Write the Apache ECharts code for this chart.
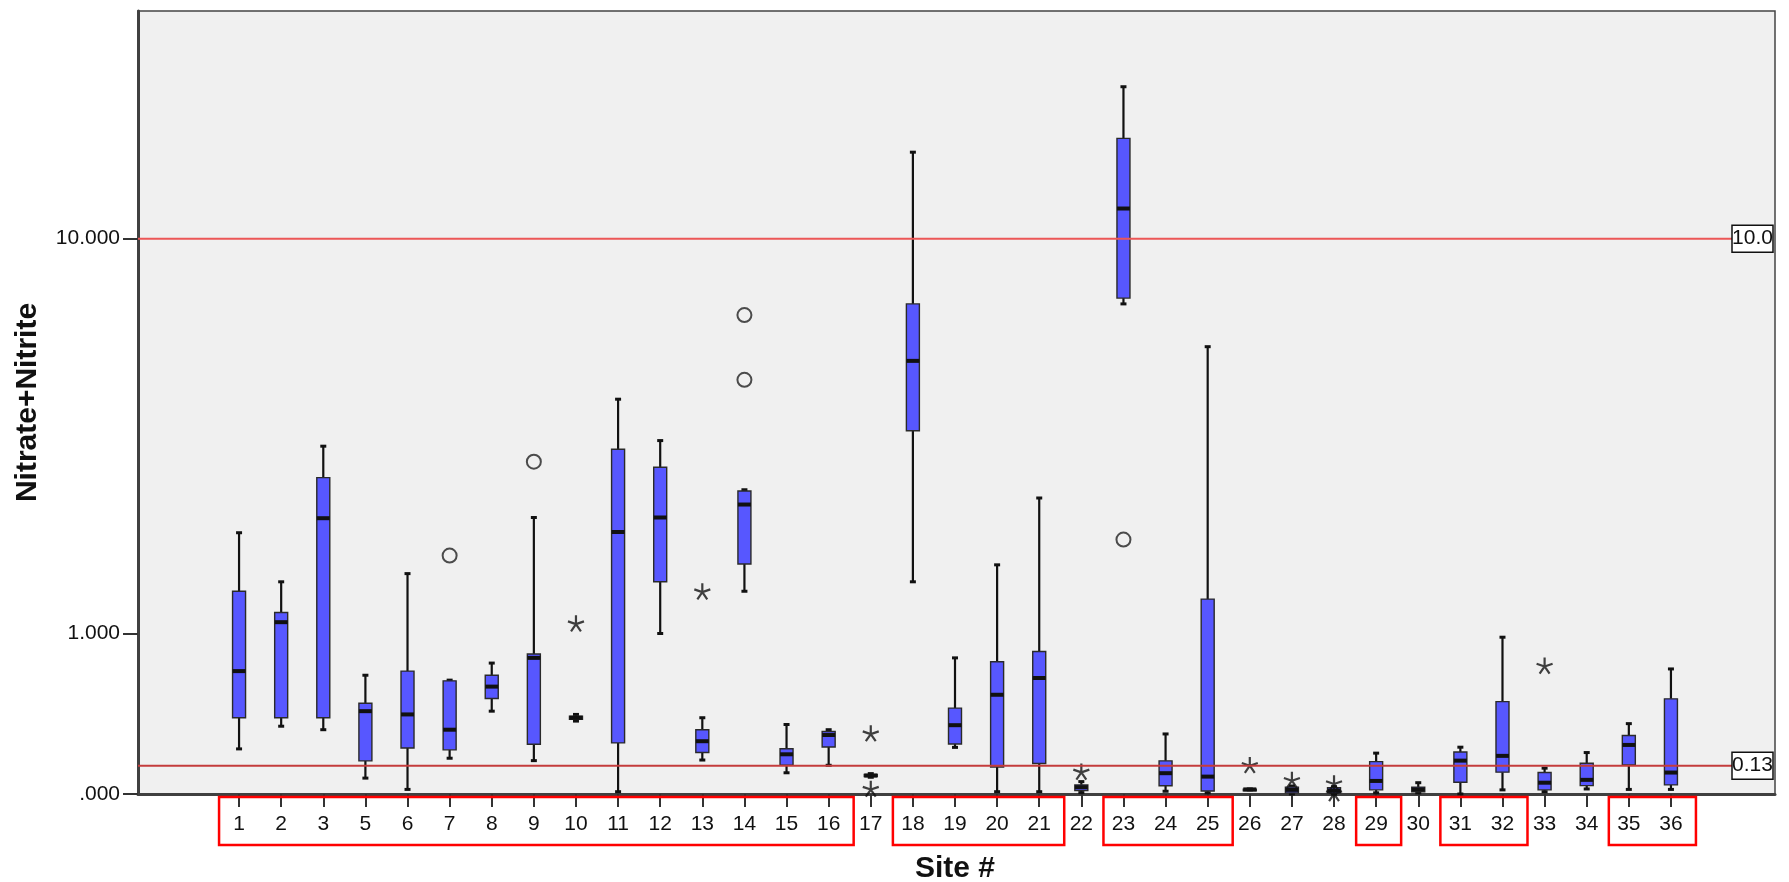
<!DOCTYPE html>
<html>
<head>
<meta charset="utf-8">
<script src="https://cdn.jsdelivr.net/npm/echarts@6/dist/echarts.min.js"></script>
<style>
  html, body { margin: 0; padding: 0; background: #ffffff; }
  #chart { width: 1789px; height: 882px; }
</style>
</head>
<body>
<div id="chart"></div>
<script>
// Sampling sites (site 4 has no data)
const sites = ['1','2','3','5','6','7','8','9','10','11','12','13','14','15','16','17','18',
  '19','20','21','22','23','24','25','26','27','28','29','30','31','32','33','34','35','36'];

// Box statistics per site (Nitrate+Nitrite, mg/L)
const whiskerLow  = [0.215,0.34,0.32,0.071,0.02,0.167,0.43,0.155,0.37,0.01,1.00,0.158,1.40,0.096,0.132,0.075,1.50,
  0.223,0.01,0.01,0.006,7.30,0.012,0.005,0.018,0.0,0.0,0.005,0.005,0.0,0.018,0.01,0.022,0.02,0.02];
const quartile1   = [0.39,0.39,0.39,0.154,0.22,0.21,0.51,0.24,0.38,0.247,1.50,0.196,1.70,0.132,0.225,0.078,3.80,
  0.241,0.124,0.141,0.015,7.51,0.036,0.013,0.019,0.005,0.004,0.018,0.01,0.052,0.099,0.018,0.037,0.134,0.04];
const medians     = [0.70,1.10,2.29,0.43,0.41,0.32,0.59,0.80,0.39,2.10,2.30,0.256,2.49,0.187,0.29,0.083,5.49,
  0.346,0.535,0.65,0.03,11.53,0.094,0.078,0.02,0.018,0.015,0.058,0.02,0.155,0.179,0.05,0.063,0.236,0.097];
const quartile3   = [1.40,1.19,2.92,0.48,0.70,0.63,0.67,0.83,0.40,3.43,3.10,0.32,2.70,0.216,0.31,0.088,7.30,
  0.449,0.77,0.85,0.04,15.96,0.154,1.32,0.021,0.03,0.028,0.150,0.03,0.199,0.49,0.097,0.142,0.287,0.508];
const whiskerHigh = [2.09,1.50,3.49,0.67,1.59,0.635,0.76,2.30,0.41,4.50,3.60,0.39,2.72,0.35,0.32,0.092,14.98,
  0.80,1.69,2.59,0.055,20.2,0.296,5.90,0.022,0.035,0.032,0.193,0.05,0.224,0.968,0.118,0.196,0.355,0.716];

// Outliers (circles) and extreme values (stars)
const outlierPoints = [['7',1.80],['9',3.20],['14',6.91],['14',4.98],['23',2.00]];
const extremePoints = [['10',1.09],['13',1.40],['17',0.30],['17',0.023],['22',0.102],['26',0.134],
  ['27',0.063],['28',0.048],['28',0.004],['33',0.741]];

// Highlighted site groups (first site, last site)
const siteGroups = [['1','16'],['18','21'],['23','25'],['29','29'],['31','32'],['35','36']];

// Axis ticks and reference levels
const yTickValues = [0, 1, 10];
const yTickLabels = ['.000', '1.000', '10.000'];
const yTopValue = 28.4;
const refValues = [10, 0.13];
const refLabels = ['10.0', '0.13'];
const refColors = ['#ec5656', '#c43c3c'];

// Safe-log scale: log10(1 + v)
const tf = v => Math.log10(1 + v);

const FONT = '"Liberation Sans", Arial, sans-serif';

function renderBox(params, api) {
  const x = api.value(0);
  const pLo = api.coord([x, api.value(1)]);
  const pQ1 = api.coord([x, api.value(2)]);
  const pMed = api.coord([x, api.value(3)]);
  const pQ3 = api.coord([x, api.value(4)]);
  const pHi = api.coord([x, api.value(5)]);
  const cx = pMed[0];
  const half = 6.5, cap = 3;
  const line = (x1, y1, x2, y2, w) => ({
    type: 'line', shape: { x1, y1, x2, y2 }, style: { stroke: '#111', lineWidth: w }
  });
  return {
    type: 'group',
    children: [
      line(cx, pQ3[1], cx, pHi[1], 2.2),
      line(cx - cap, pHi[1], cx + cap, pHi[1], 3),
      line(cx, pQ1[1], cx, pLo[1], 2.2),
      line(cx - cap, pLo[1], cx + cap, pLo[1], 3),
      {
        type: 'rect',
        shape: { x: cx - half, y: pQ3[1], width: 2 * half, height: Math.max(pQ1[1] - pQ3[1], 1.5) },
        style: { fill: '#5757ff', stroke: '#2a2a2a', lineWidth: 1.4 }
      },
      line(cx - half, pMed[1], cx + half, pMed[1], 4)
    ]
  };
}

function renderRef(params, api) {
  const cs = params.coordSys;
  const y = api.coord([0, api.value(1)])[1];
  const i = params.dataIndex;
  const bw = 41, bh = 27;
  const right = cs.x + cs.width - 2;
  return {
    type: 'group',
    children: [
      { type: 'line', shape: { x1: cs.x, y1: y, x2: right - bw, y2: y },
        style: { stroke: refColors[i], lineWidth: 2 } },
      { type: 'rect', shape: { x: right - bw, y: y - bh / 2, width: bw, height: bh },
        style: { fill: '#ffffff', stroke: '#111', lineWidth: 1.5 } },
      { type: 'text', x: right - bw / 2, y: y,
        style: { text: refLabels[i], fill: '#111', font: '21px ' + FONT, align: 'center', verticalAlign: 'middle' } }
    ]
  };
}

function renderGroup(params, api) {
  const a = api.coord([api.value(0), 0]);
  const b = api.coord([api.value(1), 0]);
  return {
    type: 'rect',
    shape: { x: a[0] - 20, y: a[1] + 3, width: b[0] - a[0] + 45, height: 48 },
    style: { fill: 'none', stroke: '#ff0000', lineWidth: 2.5 }
  };
}

const boxData = sites.map((s, i) => [i, tf(whiskerLow[i]), tf(quartile1[i]), tf(medians[i]), tf(quartile3[i]), tf(whiskerHigh[i])]);
const groupData = siteGroups.map(g => [sites.indexOf(g[0]), sites.indexOf(g[1]), 0]);
const yMax = tf(yTopValue);
const yTicks = yTickValues.map(tf);

const starPath = 'path://M0,-10L0,0M9.51,-3.09L0,0M5.88,8.09L0,0M-5.88,8.09L0,0M-9.51,-3.09L0,0';

const chart = echarts.init(document.getElementById('chart'), null, { renderer: 'canvas' });
chart.setOption({
  animation: false,
  backgroundColor: '#ffffff',
  textStyle: { fontFamily: FONT },
  grid: [
    { left: 138, right: 14, top: 11, bottom: 88, containLabel: false, outerBoundsMode: 'none',
      show: true, backgroundColor: '#f0f0f0', borderColor: '#444', borderWidth: 1.5 },
    { left: 218, right: 97, top: 11, bottom: 88, containLabel: false, outerBoundsMode: 'none' }
  ],
  xAxis: [
    { gridIndex: 0, type: 'value', min: 0, max: 1,
      axisLine: { show: true, onZero: false, lineStyle: { color: '#404040', width: 3 } },
      axisTick: { show: false }, axisLabel: { show: false }, splitLine: { show: false } },
    { gridIndex: 1, type: 'category', data: sites,
      axisLine: { show: false },
      axisTick: { show: true, alignWithLabel: true, length: 13, lineStyle: { color: '#333', width: 2 } },
      axisLabel: { interval: 0, margin: 20, fontSize: 21, color: '#111', fontFamily: FONT },
      splitLine: { show: false },
      name: 'Site #', nameLocation: 'middle', nameGap: 60,
      nameTextStyle: { fontSize: 30, fontWeight: 'bold', color: '#111', fontFamily: FONT } }
  ],
  yAxis: [
    { gridIndex: 0, type: 'value', min: 0, max: yMax,
      axisLine: { show: true, lineStyle: { color: '#404040', width: 3 } },
      axisTick: { show: true, length: 15, customValues: yTicks, lineStyle: { color: '#333', width: 2 } },
      axisLabel: {
        customValues: yTicks, margin: 18, fontSize: 21, color: '#111', fontFamily: FONT,
        formatter: v => {
          const i = yTicks.findIndex(t => Math.abs(t - v) < 1e-9);
          return i >= 0 ? yTickLabels[i] : '';
        }
      },
      splitLine: { show: false },
      name: 'Nitrate+Nitrite', nameLocation: 'middle', nameGap: 95, nameRotate: 90,
      nameTextStyle: { fontSize: 30, fontWeight: 'bold', color: '#111', fontFamily: FONT } },
    { gridIndex: 1, type: 'value', min: 0, max: yMax, show: false, splitLine: { show: false } }
  ],
  series: [
    { type: 'custom', name: 'boxes', xAxisIndex: 1, yAxisIndex: 1, z: 2,
      renderItem: renderBox, data: boxData, encode: { x: 0, y: [1, 2, 3, 4, 5] } },
    { type: 'scatter', name: 'outliers', xAxisIndex: 1, yAxisIndex: 1, z: 3,
      symbol: 'circle', symbolSize: 14,
      itemStyle: { color: 'transparent', borderColor: '#222', borderWidth: 2 },
      data: outlierPoints.map(p => [p[0], tf(p[1])]) },
    { type: 'scatter', name: 'extremes', xAxisIndex: 1, yAxisIndex: 1, z: 3,
      symbol: starPath, symbolSize: 16,
      itemStyle: { color: 'none', borderColor: '#111', borderWidth: 2.2 },
      data: extremePoints.map(p => [p[0], tf(p[1])]) },
    { type: 'custom', name: 'reference', xAxisIndex: 0, yAxisIndex: 0, z: 5,
      renderItem: renderRef, data: refValues.map(v => [0, tf(v)]), encode: { x: 0, y: 1 } },
    { type: 'custom', name: 'groups', xAxisIndex: 1, yAxisIndex: 1, z: 5, clip: false,
      renderItem: renderGroup, data: groupData, encode: { x: [0, 1], y: 2 } }
  ]
});
</script>
</body>
</html>
